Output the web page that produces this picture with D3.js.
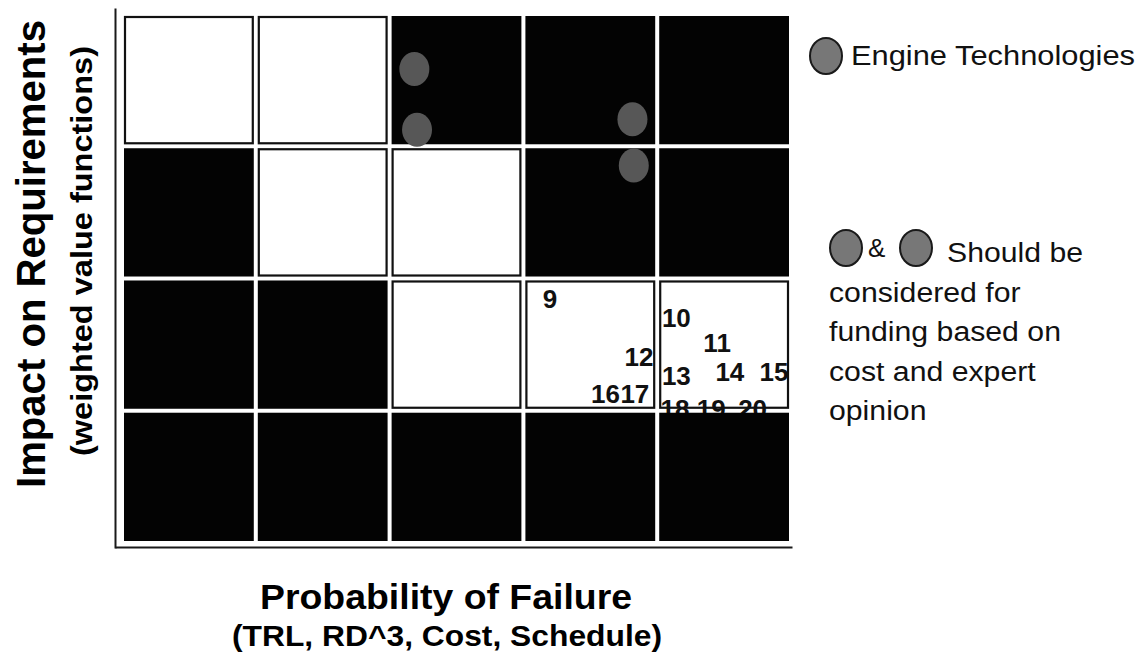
<!DOCTYPE html>
<html>
<head>
<meta charset="utf-8">
<script src="https://cdn.jsdelivr.net/npm/d3@7"></script>
<style>
  html, body { margin: 0; padding: 0; background: #fff; }
  svg { display: block; font-family: "Liberation Sans", Arial, Helvetica, sans-serif; }
</style>
</head>
<body>
<svg id="chart"></svg>
<script>
// probability of failure columns (left -> right) and impact rows (top -> bottom)
const probLevels = [1, 2, 3, 4, 5];
const impactLevels = [4, 3, 2, 1];
// 1 = dark cell, 0 = white cell; one array per row, top row first
const riskRows = [
  [0, 0, 1, 1, 1],
  [1, 0, 0, 1, 1],
  [1, 1, 0, 0, 0],
  [1, 1, 1, 1, 1]
];

// engine technologies (grey dots), in grid units (0..5 across, 0..4 up)
const engineProb = [2.17, 2.19, 3.80, 3.81];
const engineImpact = [3.60, 3.14, 3.22, 2.87];

// numbered technologies, label start position in grid units
const techIds = [9, 10, 11, 12, 13, 14, 15, 16, 17, 18, 19, 20];
const techProb = [3.13, 4.02, 4.33, 3.74, 4.02, 4.42, 4.75, 3.49, 3.71, 4.01, 4.28, 4.59];
const techImpact = [1.79, 1.65, 1.46, 1.35, 1.21, 1.24, 1.24, 1.07, 1.07, 0.96, 0.96, 0.96];

const noteLines = ['considered for', 'funding based on', 'cost and expert', 'opinion'];

const width = 1146, height = 658;
const svg = d3.select('#chart')
  .attr('width', width)
  .attr('height', height)
  .attr('viewBox', `0 0 ${width} ${height}`);

const xBand = d3.scaleBand().domain(probLevels).range([124, 789]).paddingInner(0.03);
const yBand = d3.scaleBand().domain(impactLevels).range([16, 541]).paddingInner(0.03);
const xLin = d3.scaleLinear().domain([0, 5]).range([124, 124 + 5 * xBand.step()]);
const yLin = d3.scaleLinear().domain([0, 4]).range([16 + 4 * yBand.step(), 16]);

const cells = [];
riskRows.forEach((row, r) => row.forEach((v, c) => {
  cells.push({ prob: probLevels[c], impact: impactLevels[r], dark: v === 1 });
}));

// axis lines only
svg.append('g')
  .attr('transform', 'translate(115,0)')
  .call(d3.axisLeft(d3.scaleLinear().range([548, 8])).tickValues([]).tickSizeOuter(0))
  .select('.domain').attr('stroke', '#1a1a1a').attr('stroke-width', 2);
svg.append('g')
  .attr('transform', 'translate(0,547)')
  .call(d3.axisBottom(d3.scaleLinear().range([115, 792])).tickValues([]).tickSizeOuter(0))
  .select('.domain').attr('stroke', '#1a1a1a').attr('stroke-width', 2);

// white cells first
svg.append('g')
  .selectAll('rect')
  .data(cells.filter(d => !d.dark))
  .enter().append('rect')
    .attr('x', d => xBand(d.prob) + 1)
    .attr('y', d => yBand(d.impact) + 1)
    .attr('width', xBand.bandwidth() - 2)
    .attr('height', yBand.bandwidth() - 2)
    .attr('fill', '#fff')
    .attr('stroke', '#111')
    .attr('stroke-width', 2.2);

// numbered technologies (sit under the dark cells)
svg.append('g')
  .selectAll('text')
  .data(techIds)
  .enter().append('text')
    .attr('x', (d, i) => xLin(techProb[i]))
    .attr('y', (d, i) => yLin(techImpact[i]))
    .style('font-size', '26px')
    .style('font-weight', 'bold')
    .attr('fill', '#111')
    .text(d => d);

// dark cells
svg.append('g')
  .selectAll('rect')
  .data(cells.filter(d => d.dark))
  .enter().append('rect')
    .attr('x', d => xBand(d.prob))
    .attr('y', d => yBand(d.impact))
    .attr('width', xBand.bandwidth())
    .attr('height', yBand.bandwidth())
    .attr('fill', '#030303');

// engine technology dots
svg.append('g')
  .selectAll('ellipse')
  .data(engineProb)
  .enter().append('ellipse')
    .attr('cx', d => xLin(d))
    .attr('cy', (d, i) => yLin(engineImpact[i]))
    .attr('rx', 15)
    .attr('ry', 17)
    .attr('fill', '#575757');

// axis titles
svg.append('text')
  .attr('transform', 'translate(45,254) rotate(-90)')
  .attr('text-anchor', 'middle')
  .attr('textLength', 468)
  .attr('lengthAdjust', 'spacingAndGlyphs')
  .style('font-size', '40px')
  .style('font-weight', 'bold')
  .text('Impact on Requirements');
svg.append('text')
  .attr('transform', 'translate(92,251) rotate(-90)')
  .attr('text-anchor', 'middle')
  .attr('textLength', 410)
  .attr('lengthAdjust', 'spacingAndGlyphs')
  .style('font-size', '29px')
  .style('font-weight', 'bold')
  .text('(weighted value functions)');
svg.append('text')
  .attr('x', 446)
  .attr('y', 609)
  .attr('text-anchor', 'middle')
  .attr('textLength', 372)
  .attr('lengthAdjust', 'spacingAndGlyphs')
  .style('font-size', '35px')
  .style('font-weight', 'bold')
  .text('Probability of Failure');
svg.append('text')
  .attr('x', 447)
  .attr('y', 646)
  .attr('text-anchor', 'middle')
  .attr('textLength', 430)
  .attr('lengthAdjust', 'spacingAndGlyphs')
  .style('font-size', '29px')
  .style('font-weight', 'bold')
  .text('(TRL, RD^3, Cost, Schedule)');

// legend
const legendDot = (g, cx, cy) => g.append('ellipse')
  .attr('cx', cx).attr('cy', cy)
  .attr('rx', 16).attr('ry', 18)
  .attr('fill', '#777')
  .attr('stroke', '#1a1a1a')
  .attr('stroke-width', 2);
const legend = svg.append('g').style('font-size', '27px').attr('fill', '#111');
legendDot(legend, 826, 56);
legend.append('text')
  .attr('x', 851).attr('y', 65)
  .attr('textLength', 284)
  .attr('lengthAdjust', 'spacingAndGlyphs')
  .text('Engine Technologies');

legendDot(legend, 846, 248);
legend.append('text')
  .attr('x', 868).attr('y', 257)
  .style('font-size', '26px')
  .text('&');
legendDot(legend, 916, 248);
legend.append('text')
  .attr('x', 947).attr('y', 262)
  .attr('textLength', 136)
  .attr('lengthAdjust', 'spacingAndGlyphs')
  .text('Should be');
legend.selectAll('text.note')
  .data(noteLines)
  .enter().append('text')
    .attr('class', 'note')
    .attr('x', 829)
    .attr('y', (d, i) => 302 + i * 39.5)
    .attr('transform', `translate(${-829 * 0.12},0) scale(1.12,1)`)
    .text(d => d);
</script>
</body>
</html>
